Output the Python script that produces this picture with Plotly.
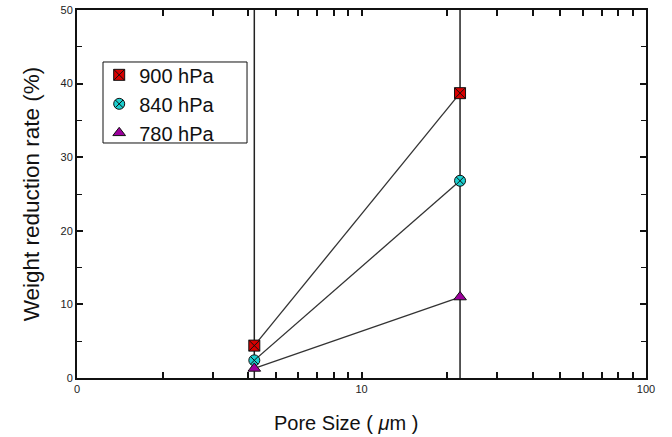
import plotly.graph_objects as go

# ---- data ----
pore_size = [4.2, 22.2]
series_names = ["900 hPa", "840 hPa", "780 hPa"]
w900 = [4.4, 38.7]
w840 = [2.4, 26.8]
w780 = [1.3, 11.0]
x_tickvals = [1, 2, 3, 4, 5, 6, 7, 8, 9, 10, 20, 30, 40, 50, 60, 70, 80, 90, 100]
x_ticktext = ["0", "", "", "", "", "", "", "", "", "10", "", "", "", "", "", "", "", "", "100"]
y_tickvals = [0, 10, 20, 30, 40, 50]

series_vals = [w900, w840, w780]
symbols = ["square-x", "circle-x", "triangle-up"]
colors = ["#d80000", "#1ccfcf", "#9c009c"]

fig = go.Figure()
# connecting lines (no legend)
for name, vals in zip(series_names, series_vals):
    fig.add_trace(go.Scatter(
        x=pore_size, y=vals, mode="lines", showlegend=False, hoverinfo="skip",
        line=dict(color="#333333", width=1.3),
    ))
# markers (legend shows markers only)
for name, vals, sym, col in zip(series_names, series_vals, symbols, colors):
    fig.add_trace(go.Scatter(
        x=pore_size, y=vals, name=name, mode="markers",
        marker=dict(symbol=sym, size=11, color=col,
                    line=dict(color="#111111", width=1)),
    ))

for xv in pore_size:
    fig.add_shape(type="line", xref="x", yref="paper", x0=xv, x1=xv, y0=0, y1=1,
                  line=dict(color="#222222", width=1.5), layer="below")

# legend frame
fig.add_shape(type="rect", xref="paper", yref="paper",
              x0=0.0457, x1=0.2988, y0=0.6386, y1=0.8587,
              line=dict(color="#111111", width=1), fillcolor="white", layer="above")

fig.add_annotation(text="Pore Size ( <i>\u03bc</i>m )", xref="paper", yref="paper",
                   x=0.473, y=-0.122, xanchor="center", yanchor="middle",
                   showarrow=False, font=dict(size=20, color="#111111"))

fig.update_layout(
    width=672, height=437,
    margin=dict(l=77, r=26, t=10, b=59),
    paper_bgcolor="white", plot_bgcolor="white",
    font=dict(family="Liberation Sans, Arial, sans-serif", color="#111111"),
    showlegend=True,
    legend=dict(x=0.039, y=0.745, xanchor="left", yanchor="middle",
                bgcolor="rgba(0,0,0,0)", borderwidth=0,
                font=dict(size=20, color="#111111"),
                tracegroupgap=0),
)

fig.update_xaxes(
    type="log", range=[0, 2],
    tickvals=x_tickvals, ticktext=x_ticktext,
    ticks="inside", ticklen=6, tickwidth=1.5, tickcolor="#111111",
    showline=True, linewidth=2, linecolor="#111111", mirror="ticks",
    showgrid=False, zeroline=False,
    tickfont=dict(size=11, color="#222222"),
    automargin=False,
)
fig.update_yaxes(
    range=[0, 50], tickvals=y_tickvals,
    ticks="inside", ticklen=6, tickwidth=1.5, tickcolor="#111111",
    minor=dict(dtick=5, ticks="inside", ticklen=5, tickwidth=1.2, tickcolor="#111111", showgrid=False),
    showline=True, linewidth=2, linecolor="#111111", mirror="ticks",
    showgrid=False, zeroline=False,
    tickfont=dict(size=11, color="#222222"),
    title=dict(text="Weight reduction rate (%)", font=dict(size=22.5, color="#111111"), standoff=15),
    automargin=False,
)

fig.write_html("out.html", config={"displayModeBar": False},
               post_script="document.body.style.margin='0';")
